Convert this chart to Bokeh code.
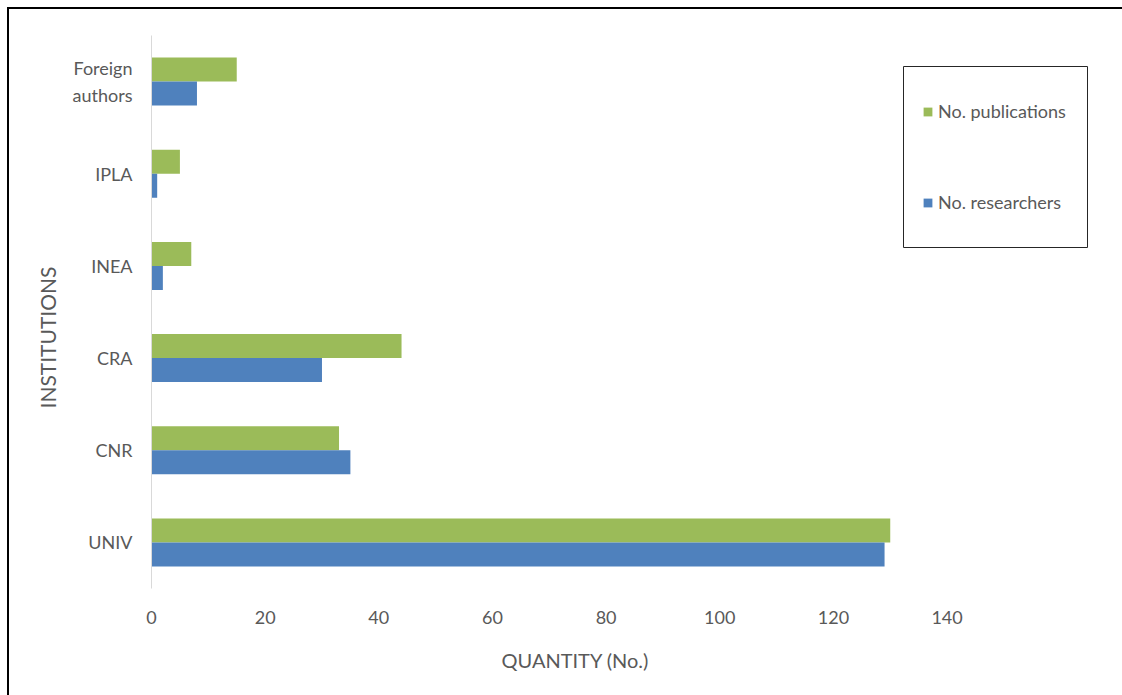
from bokeh.plotting import figure
from bokeh.models import (Range1d, FactorRange, FixedTicker, Legend, LegendItem,
                          Title, BoxAnnotation, ColumnDataSource, InlineStyleSheet)
from bokeh.transform import dodge
from bokeh.embed import file_html
from bokeh.resources import INLINE

# ---- data ----
institutions = ["UNIV", "CNR", "CRA", "INEA", "IPLA", "Foreign\nauthors"]
publications = [130, 33, 44, 7, 5, 15]
researchers = [129, 35, 30, 2, 1, 8]
x_ticks = [0, 20, 40, 60, 80, 100, 120, 140]
series_names = ["No. publications", "No. researchers"]
x_title = "QUANTITY (No.)"
y_title = "INSTITUTIONS"

GREEN = "#9BBB59"
BLUE = "#4F81BD"
TXT = "#595959"
FONT = "Lato"

src = ColumnDataSource(dict(inst=institutions, pub=publications, res=researchers))

p = figure(width=1122, height=695,
           y_range=FactorRange(factors=institutions, range_padding=0),
           x_range=Range1d(0, 167),
           output_backend="svg", toolbar_location=None,
           min_border_left=151, min_border_right=22,
           min_border_top=35, min_border_bottom=107)

g = p.hbar(y=dodge("inst", 0.13, range=p.y_range), left=0, right="pub",
           height=0.26, source=src, fill_color=GREEN, line_color=None)
b = p.hbar(y=dodge("inst", -0.13, range=p.y_range), left=0, right="res",
           height=0.26, source=src, fill_color=BLUE, line_color=None)

p.outline_line_color = None
p.xgrid.grid_line_color = None
p.ygrid.grid_line_color = None
p.background_fill_color = "white"
p.border_fill_color = "white"

xa = p.xaxis[0]
xa.ticker = FixedTicker(ticks=x_ticks)
xa.axis_line_color = None
xa.major_tick_line_color = None
xa.minor_tick_line_color = None
xa.major_tick_out = 0
xa.major_label_standoff = 22
xa.major_label_text_font = FONT
xa.major_label_text_font_size = "18px"
xa.major_label_text_color = TXT

ya = p.yaxis[0]
ya.axis_line_color = "#D9D9D9"
ya.axis_line_width = 1
ya.major_tick_line_color = None
ya.minor_tick_line_color = None
ya.major_tick_out = 0
ya.major_label_standoff = 19
ya.major_label_text_font = FONT
ya.major_label_text_font_size = "18px"
ya.major_label_text_color = TXT

# axis titles as side-panel titles (offset along the axis)
p.add_layout(Title(text=x_title, align="left", offset=350, standoff=38,
                   text_font=FONT, text_font_size="20px", text_color=TXT,
                   text_font_style="normal"), "below")
p.add_layout(Title(text=y_title, align="left", offset=180, standoff=19,
                   text_font=FONT, text_font_size="21px", text_color=TXT,
                   text_font_style="normal"), "left")

# legend (box drawn separately)
legend = Legend(items=[LegendItem(label=series_names[0], renderers=[g]),
                       LegendItem(label=series_names[1], renderers=[b])],
                location=(771, 375), padding=0, margin=0, spacing=69,
                glyph_width=11, glyph_height=11, label_standoff=5,
                label_text_font=FONT, label_text_font_size="18px",
                label_text_color=TXT, border_line_color=None,
                background_fill_alpha=0)
p.add_layout(legend, "center")

p.add_layout(BoxAnnotation(left=903, right=1087, top=66, bottom=247,
                           left_units="canvas", right_units="canvas",
                           top_units="canvas", bottom_units="canvas",
                           fill_alpha=0, line_color="#262626", line_alpha=1,
                           line_width=1))

# outer chart border (only top and left edges fall inside the picture)
p.stylesheets = [InlineStyleSheet(css="""
:host { position: relative; }
:host::after {
  content: ""; position: absolute; left: 7px; top: 7px; right: 0; bottom: 0;
  border-top: 2px solid #000; border-left: 2px solid #000;
  pointer-events: none; z-index: 100;
}
""")]

open("out.html", "w").write(file_html(p, INLINE))
